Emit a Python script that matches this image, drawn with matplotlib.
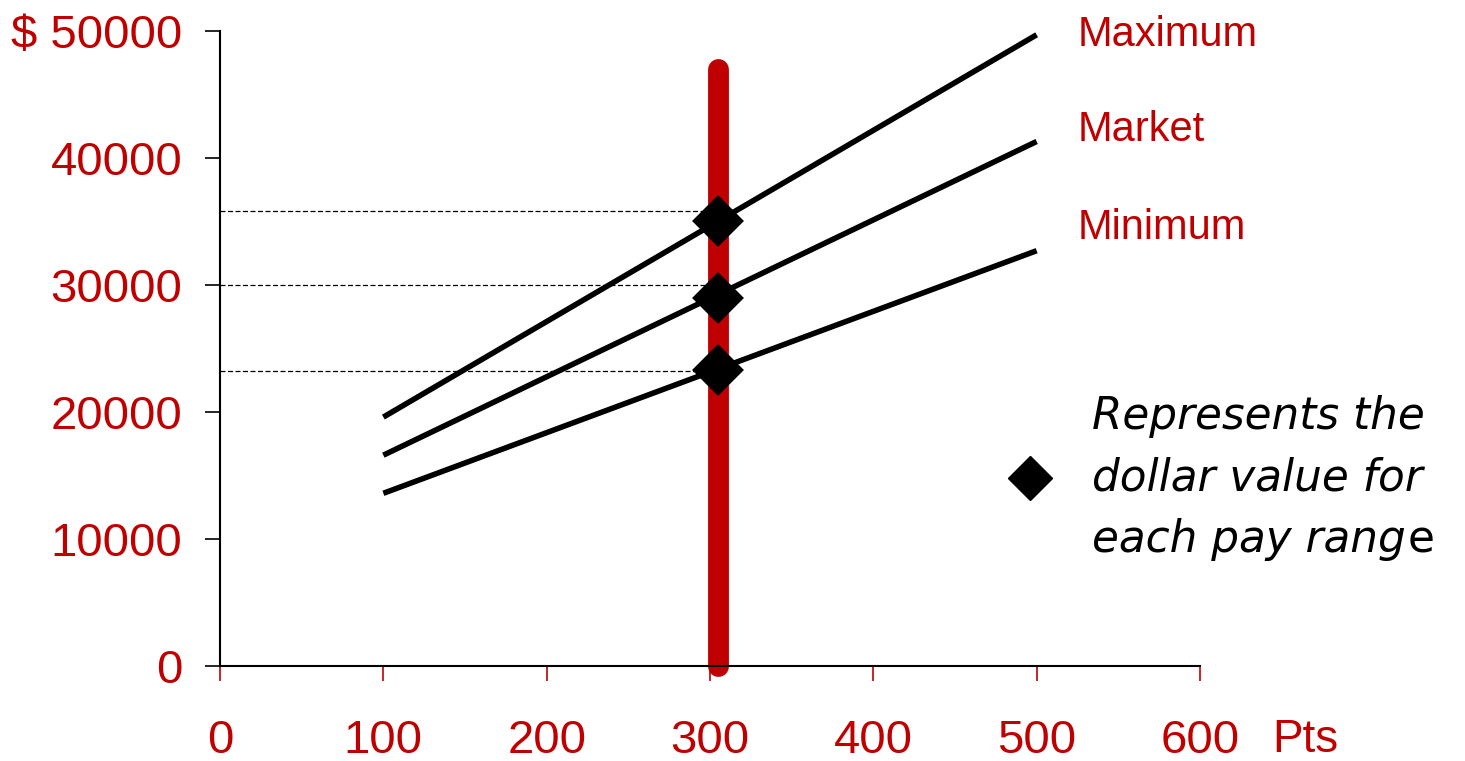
import numpy as np
import matplotlib.pyplot as plt

plt.rcParams['font.family'] = ['Liberation Sans', 'DejaVu Sans']

red = '#c00000'

# pay lines: points 100 -> 500
pts = [100, 500]
maximum = [19600, 49700]
market = [16600, 41300]
minimum = [13600, 32700]
line_labels = ['Maximum', 'Market', 'Minimum']
label_y = [49700, 42200, 34500]

# job evaluated at ~305 points
job_pts = 305
job_values = [35000, 29000, 23300]
dash_values = [35800, 30000, 23250]
bar_top = 47000

xticks = [0, 100, 200, 300, 400, 500, 600]
yticks = [0, 10000, 20000, 30000, 40000, 50000]
ytick_labels = ['0', '10000', '20000', '30000', '40000', '$ 50000']

fig = plt.figure(figsize=(14.65, 7.61), dpi=100)
ax = fig.add_axes([0.1502, 0.1248, 0.6689, 0.8345])
ax.set_xlim(0, 600)
ax.set_ylim(0, 50000)

for ys in (maximum, market, minimum):
    ax.plot(pts, ys, color='black', lw=4, solid_capstyle='butt', zorder=3)

for v in dash_values:
    ax.plot([0, job_pts - 5], [v, v], color='black', lw=0.9, ls=(0, (4, 2)), zorder=2)

ax.plot([job_pts, job_pts], [0, bar_top], color=red, lw=15, solid_capstyle='round',
        zorder=2, clip_on=False)

ax.plot([job_pts] * 3, job_values, ls='none', marker='D', ms=23, color='black',
        markeredgewidth=3, markeredgecolor='black', zorder=4)

for lab, y in zip(line_labels, label_y):
    ax.text(525, y, lab, color=red, fontsize=30, va='center', ha='left')

# legend-like annotation
ax.plot([496], [14800], marker='D', ms=22, color='black', clip_on=False)
note = ['Represents the', 'dollar value for', 'each pay rang']
for i, s in enumerate(note):
    t = ax.text(534, 19650 - i * 4850, s, fontsize=31.5, style='italic', va='center',
                ha='left', family='DejaVu Sans')
# the last "e" sits upright in the original
ax.annotate('e', xy=(1, 0.5), xycoords=t, xytext=(1, 0), textcoords='offset points',
            fontsize=31.5, va='center', ha='left', family='DejaVu Sans')

for sp in ['top', 'right']:
    ax.spines[sp].set_visible(False)
for sp in ['left', 'bottom']:
    ax.spines[sp].set_linewidth(1.5)

ax.set_xticks(xticks)
ax.set_yticks(yticks)
ax.set_yticklabels(ytick_labels)
ax.tick_params(axis='x', colors=red, length=11, width=1.2, pad=27, labelsize=34)
ax.tick_params(axis='y', color='black', labelcolor=red, length=11, width=1.2, pad=16, labelsize=34)
fig.text(1272 / 1465, 1 - 740 / 761, 'Pts', color=red, fontsize=33, va='center', ha='left')

fig.savefig('out.png', dpi=100)
